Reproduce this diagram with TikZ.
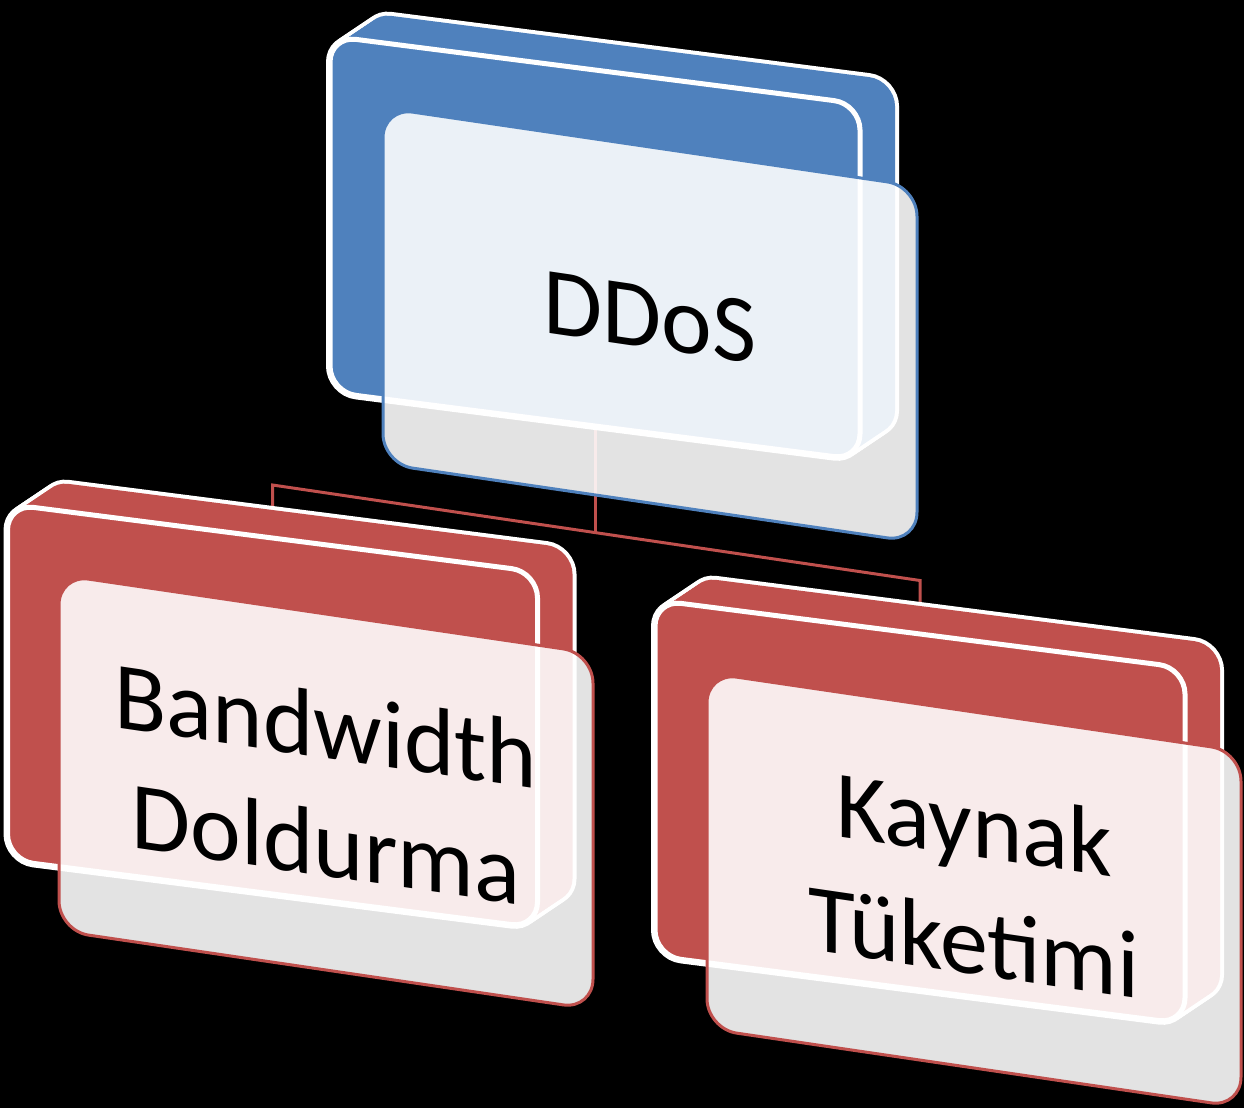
\documentclass[tikz,border=0pt]{standalone}
\usepackage{fontspec}
\setmainfont{Carlito}
\usetikzlibrary{positioning, backgrounds}
\definecolor{ddblue}{HTML}{4F81BD}
\definecolor{ddred}{HTML}{C0504D}

\begin{document}
\begin{tikzpicture}[x=0.5pt, y=-0.5pt,
    slab/.style={yslant=-0.128, minimum width=265pt, minimum height=178pt,
                 rounded corners=13pt, inner sep=0pt},
    rim/.style={slab, draw=white, line width=4pt},
    body/.style={slab, fill=#1},
    face/.style={slab, fill=#1, draw=white, line width=2.5pt},
    card/.style={yslant=-0.147, minimum width=267pt, minimum height=178pt,
                 rounded corners=15pt, fill=white, fill opacity=0.89, text opacity=1,
                 draw=#1, line width=1.5pt, align=center, text depth=8pt,
                 font=\fontsize{48}{59}\selectfont},
    link/.style={ddred, line width=1.5pt, line join=miter},
]
    \useasboundingbox (0,0) rectangle (1244,1108);

    % DDoS
    \foreach \t in {0,...,12} \node[rim] at (595+2.92*\t, 248-1.96*\t) {};
    \foreach \t in {0,...,12} \node[body=ddblue] at (595+2.92*\t, 248-1.96*\t) {};
    \node[face=ddblue] (ddosbk) at (595,248) {};
    \node[card=ddblue] (ddos) at (650,325) {DDoS};

    % Bandwidth Doldurma
    \foreach \t in {0,...,12} \node[rim] at (272.5+2.92*\t, 716-1.96*\t) {};
    \foreach \t in {0,...,12} \node[body=ddred] at (272.5+2.92*\t, 716-1.96*\t) {};
    \node[face=ddred] (bwbk) at (272.5,716) {};
    \node[card=ddred] (bw) at (326,792) {Bandwidth\\Doldurma};

    % Kaynak Tuketimi
    \foreach \t in {0,...,12} \node[rim] at (920+2.92*\t, 812-1.96*\t) {};
    \foreach \t in {0,...,12} \node[body=ddred] at (920+2.92*\t, 812-1.96*\t) {};
    \node[face=ddred] (kybk) at (920,812) {};
    \node[card=ddred] (ky) at (974,890) {Kaynak\\Tüketimi};

    \coordinate (hub) at (595,532);
    \coordinate (bwtop) at (272.5,485);
    \coordinate (kytop) at (920,580.5);

    \begin{scope}[on background layer]
        \fill[black] (0,0) rectangle (1244,1108);
        \draw[link] (ddosbk.south) -- (hub);
        \draw[link] (bwbk.north) -- (bwtop) -- (kytop) -- (kybk.north);
    \end{scope}
\end{tikzpicture}
\end{document}
